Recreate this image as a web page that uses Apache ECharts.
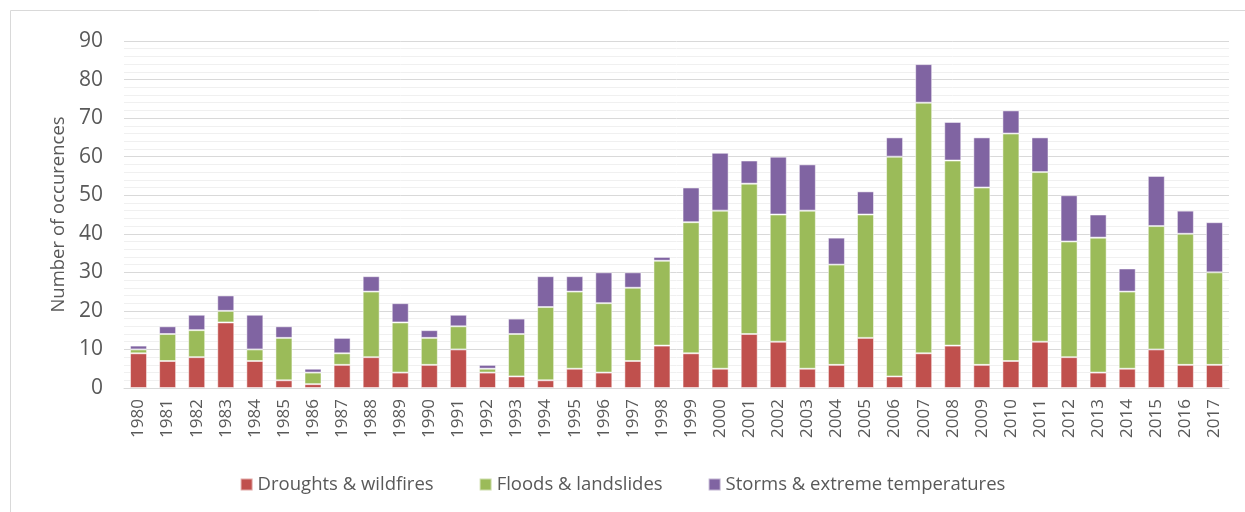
<!DOCTYPE html>
<html><head><meta charset="utf-8">
<script src="https://cdn.jsdelivr.net/npm/echarts@6/dist/echarts.min.js"></script>
<style>html,body{margin:0;padding:0;background:#fff}#c{width:1245px;height:512px}</style>
</head><body><div id="c"></div>
<script>
const years = ['1980','1981','1982','1983','1984','1985','1986','1987','1988','1989','1990','1991','1992','1993','1994','1995','1996','1997','1998','1999','2000','2001','2002','2003','2004','2005','2006','2007','2008','2009','2010','2011','2012','2013','2014','2015','2016','2017'];
const droughts = [9,7,8,17,7,2,1,6,8,4,6,10,4,3,2,5,4,7,11,9,5,14,12,5,6,13,3,9,11,6,7,12,8,4,5,10,6,6];
const floods   = [1,7,7,3,3,11,3,3,17,13,7,6,1,11,19,20,18,19,22,34,41,39,33,41,26,32,57,65,48,46,59,44,30,35,20,32,34,24];
const storms   = [1,2,4,4,9,3,1,4,4,5,2,3,1,4,8,4,8,4,1,9,15,6,15,12,7,6,5,10,10,13,6,9,12,6,6,13,6,13];
const seriesNames = ['Droughts & wildfires','Floods & landslides','Storms & extreme temperatures'];
const colors = ['#C0504D','#9BBB59','#8064A2'];
const font = 'Open Sans, Liberation Sans, sans-serif';
const chart = echarts.init(document.getElementById('c'));
const mk = (name, data, color) => ({
  name, type:'bar', stack:'a', data, barWidth:17,
  itemStyle:{color, borderColor:'rgba(255,255,255,0.5)', borderWidth:1}
});
chart.setOption({
  animation:false,
  graphic:[{type:'rect', shape:{x:10.5,y:10.5,width:1260,height:520}, style:{fill:'none', stroke:'#d9d9d9', lineWidth:1}, silent:true}],
  grid:{left:124, right:16, top:41, bottom:124},
  legend:{top:470, left:'center', itemWidth:12, itemHeight:12, itemGap:45, icon:'rect',
    textStyle:{color:'#595959', fontSize:18.5, fontFamily:font}},
  xAxis:{type:'category', data:years,
    axisLine:{lineStyle:{color:'#d9d9d9', width:1}}, axisTick:{show:false},
    axisLabel:{rotate:90, color:'#595959', fontSize:17, fontFamily:font, margin:11, interval:0}},
  yAxis:{type:'value', min:0, max:90, interval:10,
    name:'Number of occurences', nameLocation:'middle', nameGap:56, nameRotate:90,
    nameTextStyle:{color:'#595959', fontSize:18.5, fontFamily:font},
    axisLine:{show:false}, axisTick:{show:false},
    axisLabel:{color:'#595959', fontSize:21, fontFamily:font, margin:21},
    splitLine:{lineStyle:{color:'#d9d9d9', width:1}},
    minorTick:{show:false, splitNumber:5},
    minorSplitLine:{show:true, lineStyle:{color:'#f0f0f0', width:1}}},
  series:[mk(seriesNames[0],droughts,colors[0]), mk(seriesNames[1],floods,colors[1]), mk(seriesNames[2],storms,colors[2])]
});
</script></body></html>
